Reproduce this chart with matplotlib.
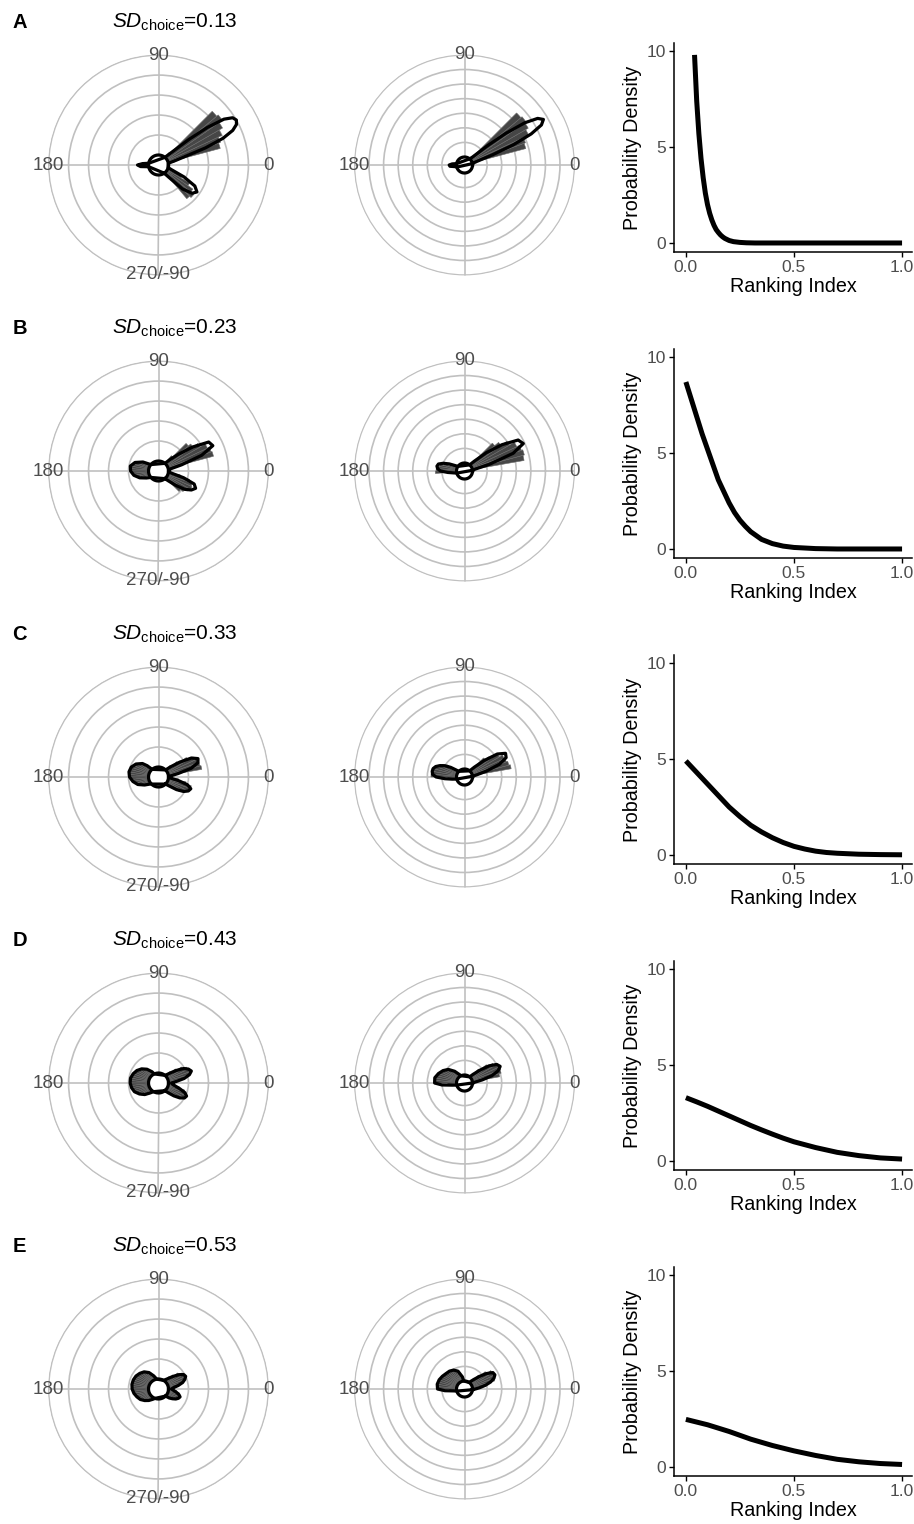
import numpy as np
import matplotlib
matplotlib.use("Agg")
import matplotlib.pyplot as plt

plt.rcParams['font.family'] = ['Liberation Sans', 'DejaVu Sans']
plt.rcParams['mathtext.fontset'] = 'custom'
plt.rcParams['mathtext.rm'] = 'Liberation Sans'
plt.rcParams['mathtext.it'] = 'Liberation Sans:italic'

panels = ['A', 'B', 'C', 'D', 'E']
sd_choice = ['0.13', '0.23', '0.33', '0.43', '0.53']

# rose histograms, 5 degree bins: (bin start in degrees, height)
# density outlines: (angle in degrees, density)
bars_A1 = [(10, 0.3), (15, 2.7), (20, 2.8), (25, 3.0), (30, 3.2), (35, 3.4), (40, 3.3), (45, 0.3),
           (-50, 1.7), (-45, 1.8), (-40, 1.6), (-35, 1.3), (-30, 0.8), (-25, 0.3),
           (175, 0.45), (180, 0.5), (185, 0.3)]
dens_A1 = [(-55, 0), (-50, 0.3), (-45, 1.2), (-40, 1.7), (-35, 1.85), (-30, 1.6), (-25, 0.9), (-20, 0.2), (-15, 0),
           (10, 0), (15, 0.4), (20, 2.0), (22.5, 3.0), (25, 3.6), (27.5, 3.9), (30, 4.0), (32.5, 3.9), (35, 3.5),
           (37.5, 2.6), (40, 1.5), (45, 0.3), (50, 0),
           (170, 0), (175, 0.3), (180, 0.55), (185, 0.4), (190, 0)]

bars_A2 = [(10, 0.3), (15, 3.8), (20, 3.9), (25, 4.3), (30, 4.5), (35, 4.6), (40, 4.5), (45, 0.2),
           (175, 0.45), (180, 0.5)]
dens_A2 = [(10, 0), (15, 0.2), (20, 1.5), (22.5, 3.1), (25, 4.5), (27.5, 5.4), (30, 5.7), (32.5, 5.4), (35, 4.5),
           (37.5, 3.0), (40, 1.5), (45, 0.2), (50, 0),
           (170, 0), (175, 0.3), (180, 0.5), (185, 0.45), (190, 0.1), (195, 0)]

bars_B1 = [(15, 2.35), (20, 2.3), (25, 2.2), (30, 1.9), (35, 1.6), (40, 1.45), (45, 0.5),
           (-45, 0.95), (-40, 1.1), (-35, 1.25), (-30, 1.35), (-25, 1.3), (-20, 1.1), (-15, 0.6),
           (150, 0.4), (155, 0.6), (160, 0.75), (165, 0.85), (170, 0.9), (175, 0.88), (180, 0.85),
           (185, 0.75), (190, 0.6), (195, 0.45), (200, 0.3)]
dens_B1 = [(-50, 0), (-45, 0.2), (-40, 0.6), (-35, 1.1), (-30, 1.4), (-25, 1.55), (-20, 1.4), (-15, 0.8), (-10, 0.2), (-5, 0),
           (10, 0.1), (15, 0.7), (20, 1.8), (25, 2.5), (30, 2.4), (35, 1.6), (40, 0.8), (45, 0.3), (50, 0),
           (140, 0), (150, 0.4), (160, 0.75), (170, 0.93), (180, 0.9), (190, 0.75), (200, 0.5), (210, 0.2), (220, 0)]

bars_B2 = [(10, 3.6), (15, 3.7), (20, 3.6), (25, 3.4), (30, 3.0), (35, 2.5), (40, 2.15), (45, 0.3),
           (155, 0.5), (160, 0.9), (165, 1.2), (170, 1.3), (175, 1.4), (180, 1.45), (185, 0.3)]
dens_B2 = [(5, 0), (10, 0.2), (15, 1.2), (20, 3.0), (25, 3.9), (30, 3.7), (35, 2.6), (40, 1.4), (45, 0.4), (50, 0),
           (145, 0), (150, 0.2), (155, 0.6), (160, 1.0), (165, 1.3), (170, 1.37), (175, 1.3), (180, 1.1),
           (185, 0.6), (190, 0.2), (195, 0)]

bars_C1 = [(10, 1.7), (15, 1.65), (20, 1.6), (25, 1.5), (30, 1.2), (35, 0.7), (40, 0.3),
           (-35, 0.75), (-30, 1.0), (-25, 1.15), (-20, 1.2), (-15, 0.9), (-10, 0.5), (-5, 0.2),
           (135, 0.3), (140, 0.55), (145, 0.7), (150, 0.8), (155, 0.88), (160, 0.92), (165, 0.95),
           (170, 0.95), (175, 0.92), (180, 0.88), (185, 0.82), (190, 0.75), (195, 0.65), (200, 0.55),
           (205, 0.4), (210, 0.25), (215, 0.1)]
dens_C1 = [(-45, 0), (-40, 0.2), (-35, 0.6), (-30, 0.95), (-25, 1.15), (-20, 1.22), (-15, 1.0), (-10, 0.5), (-5, 0.1), (0, 0),
           (5, 0.1), (10, 0.5), (15, 1.2), (20, 1.6), (25, 1.68), (30, 1.4), (35, 0.8), (40, 0.3), (45, 0),
           (130, 0), (135, 0.3), (140, 0.55), (150, 0.8), (160, 0.95), (170, 1.0), (180, 0.95), (190, 0.8),
           (200, 0.6), (210, 0.3), (220, 0.05), (225, 0)]

bars_C2 = [(10, 2.7), (15, 2.6), (20, 2.5), (25, 2.45), (30, 2.2), (35, 1.6), (40, 1.3), (45, 0.3),
           (145, 0.9), (150, 1.2), (155, 1.4), (160, 1.55), (165, 1.65), (170, 1.7), (175, 1.75),
           (180, 0.6), (185, 0.2)]
dens_C2 = [(5, 0), (10, 0.3), (15, 1.0), (20, 2.0), (25, 2.6), (30, 2.7), (35, 2.2), (40, 1.2), (45, 0.4), (50, 0),
           (135, 0), (140, 0.2), (145, 0.6), (150, 1.0), (155, 1.3), (160, 1.55), (165, 1.68), (170, 1.7),
           (175, 1.65), (180, 1.4), (185, 0.8), (190, 0.3), (195, 0)]

bars_D1 = [(0, 0.2), (5, 0.45), (10, 0.8), (15, 1.1), (20, 1.2), (25, 1.1), (30, 0.9), (35, 0.6), (40, 0.3),
           (-45, 0.3), (-40, 0.55), (-35, 0.8), (-30, 0.95), (-25, 1.0), (-20, 0.85), (-15, 0.55), (-10, 0.3), (-5, 0.15),
           (120, 0.15), (125, 0.3), (130, 0.4), (135, 0.5), (140, 0.6), (145, 0.68), (150, 0.75), (155, 0.8),
           (160, 0.84), (165, 0.88), (170, 0.9), (175, 0.9), (180, 0.88), (185, 0.85), (190, 0.82), (195, 0.78),
           (200, 0.72), (205, 0.65), (210, 0.55), (215, 0.45), (220, 0.35), (225, 0.25), (230, 0.12)]
dens_D1 = [(-50, 0), (-45, 0.2), (-40, 0.5), (-35, 0.8), (-30, 1.0), (-25, 1.05), (-20, 0.9), (-15, 0.6), (-10, 0.35),
           (-5, 0.2), (0, 0.15), (5, 0.4), (10, 0.8), (15, 1.1), (20, 1.25), (25, 1.15), (30, 0.95), (35, 0.6),
           (40, 0.3), (45, 0.1), (50, 0),
           (115, 0), (120, 0.15), (130, 0.4), (140, 0.6), (150, 0.75), (160, 0.85), (170, 0.92), (180, 0.92),
           (190, 0.87), (200, 0.78), (210, 0.6), (220, 0.4), (230, 0.15), (240, 0)]

bars_D2 = [(5, 0.2), (10, 1.9), (15, 2.05), (20, 2.1), (25, 2.0), (30, 1.8), (35, 1.4), (40, 0.8), (45, 0.3),
           (125, 0.3), (130, 0.5), (135, 0.75), (140, 0.9), (145, 1.05), (150, 1.15), (155, 1.25), (160, 1.35),
           (165, 1.45), (170, 1.5), (175, 1.55), (180, 0.6)]
dens_D2 = [(0, 0), (5, 0.2), (10, 0.7), (15, 1.4), (20, 1.9), (25, 2.15), (30, 2.0), (35, 1.5), (40, 0.8), (45, 0.3), (50, 0),
           (115, 0), (120, 0.1), (130, 0.5), (140, 0.9), (150, 1.15), (160, 1.35), (170, 1.52), (180, 1.5),
           (185, 1.0), (190, 0.3), (195, 0)]

bars_E1 = [(0, 0.15), (5, 0.3), (10, 0.55), (15, 0.75), (20, 0.9), (25, 0.95), (30, 0.9), (35, 0.75), (40, 0.5),
           (45, 0.3), (50, 0.15),
           (-40, 0.2), (-35, 0.35), (-30, 0.5), (-25, 0.6), (-20, 0.62), (-15, 0.55), (-10, 0.4), (-5, 0.25),
           (105, 0.1), (110, 0.25), (115, 0.4), (120, 0.5), (125, 0.58), (130, 0.65), (135, 0.7), (140, 0.74),
           (145, 0.77), (150, 0.8), (155, 0.82), (160, 0.83), (165, 0.84), (170, 0.84), (175, 0.83), (180, 0.8),
           (185, 0.77), (190, 0.72), (195, 0.67), (200, 0.6), (205, 0.55), (210, 0.5), (215, 0.42), (220, 0.35),
           (225, 0.27), (230, 0.2), (235, 0.12), (240, 0.05)]
dens_E1 = [(-45, 0), (-40, 0.2), (-35, 0.35), (-30, 0.5), (-25, 0.6), (-20, 0.65), (-15, 0.55), (-10, 0.4), (-5, 0.25),
           (0, 0.15), (5, 0.25), (10, 0.5), (15, 0.75), (20, 0.9), (25, 1.0), (30, 0.95), (35, 0.75), (40, 0.5),
           (45, 0.3), (50, 0.15), (60, 0),
           (100, 0), (110, 0.2), (120, 0.45), (130, 0.62), (140, 0.72), (150, 0.8), (160, 0.84), (170, 0.85),
           (180, 0.82), (190, 0.75), (200, 0.65), (210, 0.55), (220, 0.4), (230, 0.25), (240, 0.1), (250, 0)]

bars_E2 = [(0, 0.2), (5, 0.5), (10, 0.9), (15, 1.6), (20, 1.65), (25, 1.7), (30, 1.65), (35, 1.3), (40, 0.8),
           (45, 0.4), (50, 0.15),
           (100, 0.3), (105, 0.55), (110, 0.75), (115, 0.88), (120, 0.95), (125, 1.0), (130, 1.05), (135, 1.08),
           (140, 1.1), (145, 1.15), (150, 1.2), (155, 1.25), (160, 1.28), (165, 1.32), (170, 1.34), (175, 1.35),
           (180, 0.5), (185, 0.1)]
dens_E2 = [(-5, 0), (0, 0.2), (5, 0.5), (10, 0.9), (15, 1.3), (20, 1.6), (25, 1.75), (30, 1.7), (35, 1.3), (40, 0.8),
           (45, 0.4), (50, 0.15), (55, 0),
           (95, 0), (100, 0.3), (110, 0.75), (120, 0.95), (130, 1.05), (140, 1.1), (150, 1.2), (160, 1.3),
           (170, 1.35), (180, 1.3), (185, 0.8), (190, 0.2), (195, 0)]

# ranking index vs probability density
rank_A = [0.04, 0.05, 0.06, 0.07, 0.08, 0.09, 0.10, 0.11, 0.12, 0.13, 0.14, 0.15, 0.16, 0.17, 0.18, 0.20,
          0.22, 0.25, 0.28, 0.32, 0.5, 1.0]
pdf_A = [9.8, 7.4, 5.7, 4.4, 3.4, 2.6, 2.0, 1.55, 1.2, 0.92, 0.7, 0.55, 0.42, 0.32, 0.24, 0.13,
         0.07, 0.03, 0.01, 0.0, 0.0, 0.0]
rank_B = [0.0, 0.025, 0.05, 0.075, 0.1, 0.125, 0.15, 0.175, 0.2, 0.225, 0.25, 0.275, 0.3, 0.35, 0.4, 0.45,
          0.5, 0.6, 0.7, 1.0]
pdf_B = [8.7, 7.8, 6.9, 6.0, 5.2, 4.4, 3.6, 3.0, 2.4, 1.9, 1.5, 1.18, 0.9, 0.5, 0.28, 0.15,
         0.08, 0.02, 0.0, 0.0]
rank_C = [0.0, 0.05, 0.1, 0.15, 0.2, 0.25, 0.3, 0.35, 0.4, 0.45, 0.5, 0.55, 0.6, 0.65, 0.7, 0.8, 0.9, 1.0]
pdf_C = [4.9, 4.3, 3.7, 3.1, 2.5, 2.0, 1.55, 1.2, 0.9, 0.65, 0.45, 0.31, 0.2, 0.13, 0.09, 0.04, 0.02, 0.01]
rank_D = [0.0, 0.05, 0.1, 0.15, 0.2, 0.25, 0.3, 0.35, 0.4, 0.45, 0.5, 0.6, 0.7, 0.8, 0.9, 1.0]
pdf_D = [3.3, 3.08, 2.85, 2.6, 2.35, 2.1, 1.85, 1.62, 1.4, 1.19, 1.0, 0.7, 0.45, 0.28, 0.16, 0.1]
rank_E = [0.0, 0.1, 0.2, 0.3, 0.4, 0.5, 0.6, 0.7, 0.8, 0.9, 1.0]
pdf_E = [2.48, 2.2, 1.85, 1.45, 1.12, 0.84, 0.6, 0.4, 0.27, 0.18, 0.13]

rose_left = [(bars_A1, dens_A1), (bars_B1, dens_B1), (bars_C1, dens_C1), (bars_D1, dens_D1), (bars_E1, dens_E1)]
rose_right = [(bars_A2, dens_A2), (bars_B2, dens_B2), (bars_C2, dens_C2), (bars_D2, dens_D2), (bars_E2, dens_E2)]
curves = [(rank_A, pdf_A), (rank_B, pdf_B), (rank_C, pdf_C), (rank_D, pdf_D), (rank_E, pdf_E)]

W, H = 914, 1524
ROW = 306
GREY_TXT = '#4d4d4d'


def polar_rect(cx, cy, rad):
    return [(cx - rad) / W, 1 - (cy + rad) / H, 2 * rad / W, 2 * rad / H]


def draw_rose(ax, bars, dens, n_rings, r0, bottom_label):
    ax.set_ylim(r0, n_rings + 0.03)
    ax.set_rticks(range(1, n_rings + 1))
    ax.set_yticklabels([])
    ax.set_thetagrids([0, 90, 180, 270], labels=['', '', '', ''])
    ax.grid(True, color='#c0c0c0', lw=1.2)
    ax.spines['polar'].set_visible(False)
    ax.set_axisbelow(True)

    # white hub in the middle
    ax.bar(0, -r0, width=2 * np.pi, bottom=r0, color='white', lw=0, zorder=1.5)

    start = np.array([b[0] for b in bars], dtype=float)
    h = np.array([b[1] for b in bars])
    ax.bar(np.deg2rad(start + 2.5), h, width=np.deg2rad(5), bottom=0,
           color='#464646', edgecolor='#6a6a6a', lw=0.4, zorder=2)

    ang = [d for d, v in dens] + [dens[0][0] + 360]
    val = [v for d, v in dens] + [dens[0][1]]
    ax.plot(np.deg2rad(ang), val, color='black', lw=2.3, zorder=3,
            solid_joinstyle='round')
    ring = np.linspace(0, 2 * np.pi, 361)
    ax.plot(ring, np.zeros_like(ring), color='black', lw=2.3, zorder=3)

    labels = [(0, '0'), (90, '90'), (180, '180')]
    if bottom_label:
        labels.append((270, '270/-90'))
    for deg, s in labels:
        ax.text(np.deg2rad(deg), n_rings, s, ha='center', va='center',
                color=GREY_TXT, fontsize=13.5, zorder=4, clip_on=False)


fig = plt.figure(figsize=(W / 100, H / 100), dpi=100)

for i in range(5):
    cy = 165 + i * ROW

    ax1 = fig.add_axes(polar_rect(158.5, cy, 110.5), projection='polar')
    draw_rose(ax1, rose_left[i][0], rose_left[i][1], 5, -0.5, True)

    ax2 = fig.add_axes(polar_rect(464.5, cy, 110.5), projection='polar')
    draw_rose(ax2, rose_right[i][0], rose_right[i][1], 7, -0.55, False)

    ax3 = fig.add_axes([674 / W, 1 - (252 + i * ROW) / H, 238 / W, 209 / H])
    ax3.plot(curves[i][0], curves[i][1], color='black', lw=3.6, solid_capstyle='butt',
             solid_joinstyle='round')
    ax3.set_xlim(-0.055, 1.046)
    ax3.set_ylim(-0.47, 10.42)
    ax3.set_xticks([0, 0.5, 1.0])
    ax3.set_xticklabels(['0.0', '0.5', '1.0'])
    ax3.set_yticks([0, 5, 10])
    for side in ['top', 'right']:
        ax3.spines[side].set_visible(False)
    for side in ['left', 'bottom']:
        ax3.spines[side].set_linewidth(1.1)
    ax3.tick_params(length=3.5, width=1.0, color='black', labelcolor=GREY_TXT,
                    labelsize=12.5, pad=2.5)
    ax3.set_xlabel('Ranking Index', fontsize=14.2, labelpad=1)
    ax3.set_ylabel('Probability Density', fontsize=14.2, labelpad=3)

    base = 1 - (28 + i * ROW) / H
    fig.text(12.5 / W, base, panels[i], fontsize=14.5, fontweight='bold', va='baseline')
    fig.text(112 / W, base, r'$\mathit{SD}_{\mathrm{choice}}$=' + sd_choice[i],
             fontsize=15, va='baseline', ha='left')

fig.savefig('out.png', dpi=100)
